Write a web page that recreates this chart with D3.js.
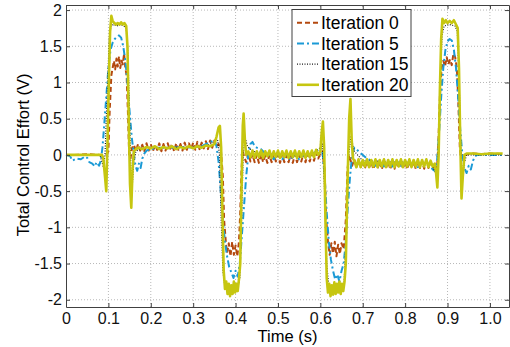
<!DOCTYPE html>
<html>
<head>
<meta charset="utf-8">
<script src="https://cdn.jsdelivr.net/npm/d3@7"></script>
<style>
  body { margin: 0; background: #fff; }
  svg { font-family: "Liberation Sans", Arial, sans-serif; }
</style>
</head>
<body>
<svg id="chart" width="510" height="347"></svg>
<script>
// tick values / labels
const xTicks = [0, 0.1, 0.2, 0.3, 0.4, 0.5, 0.6, 0.7, 0.8, 0.9, 1.0];
const xTickLabels = ['0', '0.1', '0.2', '0.3', '0.4', '0.5', '0.6', '0.7', '0.8', '0.9', '1.0'];
const yTicks = [-2, -1.5, -1, -0.5, 0, 0.5, 1, 1.5, 2];
const yTickLabels = ['-2', '-1.5', '-1', '-0.5', '0', '0.5', '1', '1.5', '2'];

const seriesNames = ['Iteration 0', 'Iteration 5', 'Iteration 15', 'Iteration 20'];

// [time (s), control effort (V)]
const iter0 = [
  [0, 0], [0.02, 0.0], [0.05, 0.01], [0.08, 0.0], [0.095, 0.0], [0.1, 0.05], [0.103, 0.6], [0.107, 1.1],
  [0.11, 1.2], [0.113, 1.3], [0.116, 1.18], [0.119, 1.33], [0.122, 1.22], [0.125, 1.36], [0.128, 1.2],
  [0.131, 1.3], [0.134, 1.25], [0.137, 1.4], [0.14, 1.2], [0.143, 1.1], [0.146, 0.6], [0.149, 0.0],
  [0.152, -0.05], [0.156, 0.1],
  [0.16, 0.14], [0.165, 0.05], [0.17, 0.15], [0.175, 0.06], [0.18, 0.14], [0.185, 0.05], [0.19, 0.16],
  [0.195, 0.06], [0.2, 0.15], [0.205, 0.05], [0.21, 0.14], [0.215, 0.07], [0.22, 0.16], [0.225, 0.05],
  [0.23, 0.15], [0.235, 0.06], [0.24, 0.16], [0.245, 0.07], [0.25, 0.15], [0.255, 0.05], [0.26, 0.16],
  [0.265, 0.07], [0.27, 0.15], [0.275, 0.06], [0.28, 0.17], [0.285, 0.07], [0.29, 0.16], [0.295, 0.08],
  [0.3, 0.17], [0.305, 0.07], [0.31, 0.18], [0.315, 0.08], [0.32, 0.17], [0.325, 0.09], [0.33, 0.19],
  [0.335, 0.08], [0.34, 0.2], [0.345, 0.1], [0.35, 0.2], [0.355, 0.12], [0.36, 0.15], [0.365, 0.1],
  [0.37, -0.3], [0.373, -0.9], [0.377, -1.2], [0.38, -1.35], [0.384, -1.22], [0.388, -1.4], [0.392, -1.2],
  [0.396, -1.38], [0.4, -1.25], [0.404, -1.4], [0.408, -1.2], [0.411, -0.8], [0.414, -0.2], [0.417, 0.05],
  [0.42, -0.02], [0.425, -0.1], [0.43, 0.02], [0.435, -0.09], [0.44, 0.01], [0.445, -0.1], [0.45, 0.0],
  [0.455, -0.11], [0.46, 0.01], [0.465, -0.1], [0.47, -0.01], [0.475, -0.11], [0.48, 0.0], [0.485, -0.1],
  [0.49, 0.01], [0.495, -0.09], [0.5, 0.0], [0.505, -0.11], [0.51, 0.01], [0.515, -0.1], [0.52, -0.01],
  [0.525, -0.1], [0.53, 0.0], [0.535, -0.11], [0.54, 0.01], [0.545, -0.1], [0.55, 0.0], [0.555, -0.09],
  [0.56, 0.02], [0.565, -0.1], [0.57, 0.01], [0.575, -0.09], [0.58, 0.02], [0.585, -0.08], [0.59, 0.03],
  [0.595, -0.05], [0.6, 0.02], [0.605, 0.05], [0.61, -0.2], [0.614, -0.9], [0.618, -1.2], [0.622, -1.38],
  [0.626, -1.22], [0.63, -1.36], [0.634, -1.2], [0.638, -1.4], [0.642, -1.24], [0.646, -1.37], [0.65, -1.22],
  [0.655, -1.3], [0.66, -0.9], [0.664, -0.2], [0.668, 0.0],
  [0.67, -0.05], [0.675, -0.15], [0.68, -0.06], [0.685, -0.17], [0.69, -0.07], [0.695, -0.18], [0.7, -0.08],
  [0.705, -0.19], [0.71, -0.08], [0.715, -0.18], [0.72, -0.09], [0.725, -0.2], [0.73, -0.08], [0.735, -0.19],
  [0.74, -0.09], [0.745, -0.2], [0.75, -0.08], [0.755, -0.18], [0.76, -0.09], [0.765, -0.2], [0.77, -0.08],
  [0.775, -0.19], [0.78, -0.09], [0.785, -0.18], [0.79, -0.08], [0.795, -0.19], [0.8, -0.09], [0.805, -0.2],
  [0.81, -0.08], [0.815, -0.18], [0.82, -0.09], [0.825, -0.19], [0.83, -0.08], [0.835, -0.18], [0.84, -0.09],
  [0.845, -0.19], [0.85, -0.08], [0.855, -0.18], [0.86, -0.1], [0.865, -0.19], [0.87, -0.12],
  [0.875, -0.2], [0.878, 0.1], [0.882, 0.8], [0.886, 1.2], [0.89, 1.3], [0.894, 1.22], [0.898, 1.35],
  [0.902, 1.25], [0.906, 1.32], [0.91, 1.24], [0.914, 1.4], [0.918, 1.35], [0.922, 1.2], [0.925, 0.8],
  [0.929, 0.1], [0.932, -0.05], [0.936, 0.02], [0.94, 0.0], [0.96, 0.02], [0.98, 0.01], [1.0, 0.02], [1.03, 0.01]
];

const iter5 = [
  [0, 0], [0.01, -0.02], [0.015, -0.08], [0.025, -0.05], [0.035, -0.06], [0.045, -0.02], [0.05, -0.04],
  [0.055, -0.1], [0.062, -0.12], [0.068, -0.16], [0.072, -0.1], [0.078, -0.15], [0.082, -0.08], [0.086, 0.1],
  [0.09, 0.4], [0.095, 0.8], [0.1, 1.2], [0.105, 1.45], [0.11, 1.55], [0.115, 1.6], [0.12, 1.63], [0.125, 1.65],
  [0.13, 1.62], [0.135, 1.5], [0.14, 1.3], [0.145, 1.0], [0.15, 0.6], [0.155, 0.25], [0.16, 0.0], [0.164, -0.15],
  [0.168, -0.22], [0.172, -0.12], [0.176, -0.18], [0.18, -0.05], [0.185, 0.02], [0.19, 0.06], [0.2, 0.08],
  [0.22, 0.1], [0.25, 0.1], [0.28, 0.11], [0.3, 0.1], [0.32, 0.12], [0.33, 0.15], [0.34, 0.18], [0.35, 0.2],
  [0.355, 0.12], [0.36, -0.1], [0.365, -0.5], [0.37, -0.9], [0.375, -1.2], [0.38, -1.4], [0.385, -1.55],
  [0.39, -1.62], [0.395, -1.7], [0.4, -1.6], [0.405, -1.68], [0.41, -1.5], [0.415, -1.1], [0.42, -0.7],
  [0.425, -0.3], [0.43, 0.0], [0.435, 0.15], [0.44, 0.18], [0.445, 0.12], [0.45, 0.1], [0.46, 0.08],
  [0.47, 0.02], [0.48, 0.0], [0.49, -0.06], [0.5, 0.01], [0.51, -0.06], [0.52, 0.0], [0.53, -0.07],
  [0.54, 0.01], [0.55, -0.06], [0.56, 0.0], [0.57, -0.05], [0.58, 0.0], [0.59, 0.05], [0.6, 0.1],
  [0.605, 0.05], [0.61, -0.3], [0.615, -0.8], [0.62, -1.2], [0.625, -1.45], [0.63, -1.6], [0.635, -1.72],
  [0.64, -1.65], [0.645, -1.75], [0.65, -1.6], [0.655, -1.5], [0.66, -1.2], [0.665, -0.7], [0.67, -0.3],
  [0.675, 0.0], [0.68, 0.1], [0.685, 0.08], [0.69, 0.05], [0.7, 0.0], [0.71, -0.05], [0.72, -0.08],
  [0.73, -0.15], [0.74, -0.08], [0.75, -0.16], [0.76, -0.09], [0.77, -0.16], [0.78, -0.08], [0.79, -0.15],
  [0.8, -0.09], [0.81, -0.16], [0.82, -0.1], [0.83, -0.17], [0.84, -0.1], [0.85, -0.16], [0.86, -0.15],
  [0.865, -0.2], [0.87, -0.22], [0.875, -0.1], [0.88, 0.3], [0.885, 0.8], [0.89, 1.2], [0.895, 1.45],
  [0.9, 1.57], [0.905, 1.6], [0.91, 1.58], [0.915, 1.45], [0.92, 1.2], [0.925, 0.8], [0.93, 0.35],
  [0.935, 0.0], [0.94, -0.18], [0.945, -0.25], [0.95, -0.15], [0.955, -0.2], [0.96, -0.08], [0.965, -0.02],
  [0.97, 0.0], [1.0, 0.0], [1.03, 0.0]
];

const iter15 = [
  [0, 0], [0.08, 0], [0.085, -0.1], [0.088, -0.17], [0.092, 0.0], [0.097, 0.8], [0.102, 1.6], [0.106, 1.78],
  [0.112, 1.8], [0.12, 1.78], [0.128, 1.8], [0.136, 1.78], [0.142, 1.75], [0.146, 1.4], [0.15, 0.5],
  [0.153, -0.2], [0.156, -0.45], [0.16, -0.1], [0.165, 0.05], [0.18, 0.1], [0.25, 0.1], [0.33, 0.12],
  [0.35, 0.18], [0.358, 0.2], [0.362, 0.0], [0.366, -0.9], [0.37, -1.6], [0.375, -1.82], [0.385, -1.85],
  [0.395, -1.82], [0.405, -1.85], [0.41, -1.7], [0.414, -0.9], [0.418, 0.0], [0.422, 0.25], [0.428, 0.12],
  [0.44, 0.05], [0.5, 0.0], [0.58, 0.0], [0.6, 0.1], [0.605, 0.15], [0.61, -0.5], [0.615, -1.5],
  [0.62, -1.82], [0.63, -1.85], [0.64, -1.82], [0.65, -1.85], [0.656, -1.75], [0.662, -1.0], [0.667, 0.0],
  [0.672, 0.25], [0.68, 0.05], [0.7, -0.08], [0.8, -0.1], [0.86, -0.12], [0.87, -0.22], [0.875, -0.3],
  [0.879, 0.2], [0.883, 1.0], [0.887, 1.65], [0.892, 1.78], [0.905, 1.8], [0.918, 1.78], [0.923, 1.7],
  [0.927, 1.1], [0.931, 0.2], [0.935, -0.35], [0.94, -0.1], [0.945, 0.0], [1.03, 0.0]
];

const iter20 = [
  [0, 0], [0.085, 0], [0.088, -0.05], [0.092, -0.3], [0.095, -0.5], [0.098, 0.2], [0.101, 1.0], [0.104, 1.7],
  [0.107, 1.92], [0.11, 1.85], [0.114, 1.82], [0.118, 1.8], [0.122, 1.82], [0.126, 1.8], [0.13, 1.83],
  [0.134, 1.8], [0.138, 1.82], [0.142, 1.78], [0.145, 1.5], [0.148, 0.5], [0.151, -0.4], [0.154, -0.73],
  [0.157, -0.2], [0.16, 0.05], [0.165, 0.08], [0.17, 0.1], [0.18, 0.08], [0.19, 0.11], [0.2, 0.09],
  [0.21, 0.12], [0.22, 0.08], [0.23, 0.11], [0.24, 0.09], [0.25, 0.12], [0.26, 0.08], [0.27, 0.11],
  [0.28, 0.09], [0.29, 0.12], [0.3, 0.09], [0.31, 0.12], [0.32, 0.1], [0.33, 0.13], [0.34, 0.12],
  [0.35, 0.15], [0.355, 0.25], [0.36, 0.38], [0.363, 0.4], [0.366, 0.1], [0.369, -0.8], [0.372, -1.6],
  [0.375, -1.85], [0.378, -1.75], [0.381, -1.92], [0.384, -1.78], [0.387, -1.95], [0.39, -1.8],
  [0.393, -1.92], [0.396, -1.75], [0.399, -1.9], [0.402, -1.78], [0.405, -1.88], [0.408, -1.72],
  [0.411, -1.5], [0.414, -0.5], [0.417, 0.4], [0.419, 0.57], [0.422, 0.2], [0.425, 0.0], [0.43, 0.05],
  [0.435, -0.03], [0.44, 0.06], [0.445, -0.04], [0.45, 0.05], [0.455, -0.03], [0.46, 0.06], [0.465, -0.04],
  [0.47, 0.05], [0.475, -0.02], [0.48, 0.06], [0.485, -0.04], [0.49, 0.05], [0.495, -0.03], [0.5, 0.06],
  [0.505, -0.04], [0.51, 0.05], [0.515, -0.03], [0.52, 0.06], [0.525, -0.04], [0.53, 0.05], [0.535, -0.03],
  [0.54, 0.06], [0.545, -0.04], [0.55, 0.05], [0.555, -0.03], [0.56, 0.06], [0.565, -0.04], [0.57, 0.05],
  [0.575, -0.03], [0.58, 0.06], [0.585, -0.03], [0.59, 0.07], [0.595, 0.0], [0.6, 0.05], [0.603, 0.3],
  [0.606, 0.46], [0.609, 0.1], [0.612, -0.9], [0.615, -1.7], [0.618, -1.9], [0.621, -1.78], [0.624, -1.95],
  [0.627, -1.8], [0.63, -1.93], [0.633, -1.76], [0.636, -1.92], [0.639, -1.78], [0.642, -1.9], [0.645, -1.75],
  [0.648, -1.92], [0.651, -1.78], [0.654, -1.88], [0.657, -1.75], [0.66, -1.5], [0.664, -0.4], [0.668, 0.5],
  [0.671, 0.77], [0.674, 0.2], [0.677, -0.05], [0.68, -0.08], [0.685, -0.17], [0.69, -0.06], [0.695, -0.17],
  [0.7, -0.07], [0.705, -0.16], [0.71, -0.06], [0.715, -0.17], [0.72, -0.07], [0.725, -0.16], [0.73, -0.06],
  [0.735, -0.17], [0.74, -0.07], [0.745, -0.16], [0.75, -0.06], [0.755, -0.17], [0.76, -0.07], [0.765, -0.16],
  [0.77, -0.06], [0.775, -0.17], [0.78, -0.07], [0.785, -0.16], [0.79, -0.06], [0.795, -0.17], [0.8, -0.07],
  [0.805, -0.16], [0.81, -0.06], [0.815, -0.17], [0.82, -0.07], [0.825, -0.16], [0.83, -0.06], [0.835, -0.17],
  [0.84, -0.07], [0.845, -0.16], [0.85, -0.06], [0.855, -0.17], [0.86, -0.08], [0.865, -0.16], [0.87, -0.12],
  [0.873, -0.25], [0.876, -0.45], [0.879, 0.0], [0.882, 0.9], [0.885, 1.6], [0.888, 1.88], [0.892, 1.82],
  [0.896, 1.86], [0.9, 1.82], [0.905, 1.85], [0.91, 1.82], [0.915, 1.86], [0.92, 1.8], [0.924, 1.75],
  [0.927, 1.2], [0.93, 0.2], [0.933, -0.6], [0.936, -0.3], [0.94, 0.0], [0.945, 0.02], [0.96, 0.02],
  [0.98, 0.01], [1.0, 0.02], [1.03, 0.02]
];

const allSeries = [iter0, iter5, iter15, iter20];
const colors = ['#b4490f', '#1b9ad6', '#1a1a1a', '#c6c610'];
const dashes = ['5,3', '7,3,2,3', '1,1.5', null];
const widths = [2, 2, 1.2, 2.6];

const svg = d3.select('#chart');

// Axis box (MATLAB style limits)
const xLim = [0, 1.045];
const yLim = [-2.1, 2.07];
const x = d3.scaleLinear().domain(xLim).range([66, 509]);
const y = d3.scaleLinear().domain(yLim).range([307, 5]);

// dotted grid
const grid = svg.append('g').attr('class', 'grid');
grid.selectAll('line.gx')
  .data(xTicks.slice(1))
  .join('line')
  .attr('x1', d => x(d)).attr('x2', d => x(d))
  .attr('y1', y(yLim[0])).attr('y2', y(yLim[1]))
  .attr('stroke', '#b8b8b8').attr('stroke-dasharray', '1,2');
grid.selectAll('line.gy')
  .data(yTicks)
  .join('line')
  .attr('y1', d => y(d)).attr('y2', d => y(d))
  .attr('x1', x(xLim[0])).attr('x2', x(xLim[1]))
  .attr('stroke', '#b8b8b8').attr('stroke-dasharray', '1,2');

// series
const line = d3.line().x(d => x(d[0])).y(d => y(d[1]));
const plot = svg.append('g');
allSeries.forEach((s, i) => {
  plot.append('path')
    .datum(s)
    .attr('fill', 'none')
    .attr('stroke', colors[i])
    .attr('stroke-width', widths[i])
    .attr('stroke-dasharray', dashes[i])
    .attr('stroke-linejoin', 'round')
    .attr('d', line);
});

// axes
const axisColor = '#404040';
const xAxis = d3.axisBottom(x).tickValues(xTicks).tickSizeInner(-4).tickSizeOuter(0)
  .tickPadding(6).tickFormat((d, i) => xTickLabels[i]);
const yAxis = d3.axisLeft(y).tickValues(yTicks).tickSizeInner(-4).tickSizeOuter(0)
  .tickPadding(4).tickFormat((d, i) => yTickLabels[i]);

svg.append('g').attr('transform', `translate(0,${y(yLim[0])})`).call(xAxis);
svg.append('g').attr('transform', `translate(${x(xLim[0])},0)`).call(yAxis);
svg.append('g').attr('transform', `translate(0,${y(yLim[1])})`)
  .call(d3.axisTop(x).tickValues(xTicks).tickSizeInner(-4).tickSizeOuter(0).tickFormat(''));
svg.append('g').attr('transform', `translate(${x(xLim[1])},0)`)
  .call(d3.axisRight(y).tickValues(yTicks).tickSizeInner(-4).tickSizeOuter(0).tickFormat(''));

svg.selectAll('.domain').attr('stroke', axisColor);
svg.selectAll('.tick line').attr('stroke', axisColor);
svg.selectAll('.tick text').attr('fill', '#111').style('font-size', '16px')
  .style('font-family', '"Liberation Sans", Arial, sans-serif');

// axis titles
svg.append('text')
  .attr('x', (x(xLim[0]) + x(xLim[1])) / 2)
  .attr('y', 342)
  .attr('text-anchor', 'middle')
  .style('font-size', '16.5px')
  .text('Time (s)');

svg.append('text')
  .attr('transform', `translate(29,${y(0)}) rotate(-90)`)
  .attr('text-anchor', 'middle')
  .style('font-size', '16.5px')
  .text('Total Control Effort (V)');

// legend
const legend = svg.append('g');
legend.append('rect')
  .attr('x', 292).attr('y', 9.5).attr('width', 119).attr('height', 87)
  .attr('fill', '#fff').attr('stroke', axisColor);
seriesNames.forEach((name, i) => {
  const ly = 22.7 + i * 20.7;
  legend.append('line')
    .attr('x1', 297).attr('x2', 319).attr('y1', ly).attr('y2', ly)
    .attr('stroke', colors[i]).attr('stroke-width', widths[i])
    .attr('stroke-dasharray', dashes[i]);
  legend.append('text')
    .attr('x', 321).attr('y', ly).attr('dy', '0.35em')
    .style('font-size', '17.5px')
    .text(name);
});
</script>
</body>
</html>
